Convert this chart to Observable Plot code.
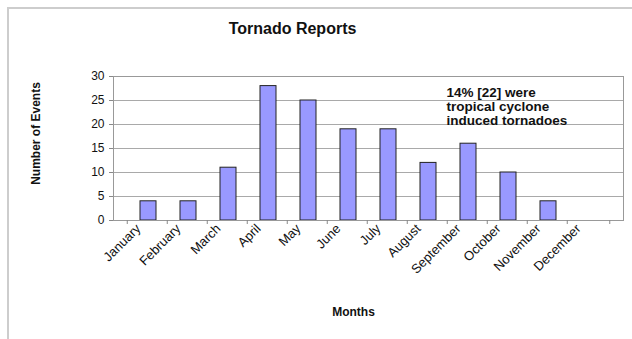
<!DOCTYPE html>
<html><head><meta charset="utf-8">
<script src="https://cdn.jsdelivr.net/npm/d3@7"></script>
<script src="https://cdn.jsdelivr.net/npm/@observablehq/plot@0.6"></script>
<style>
body{margin:0;background:#fff;}
#wrap{position:relative;width:632px;height:339px;overflow:hidden;background:#fff;}
#border{position:absolute;left:7px;top:7px;right:-4px;bottom:-4px;border-left:2px solid #cdcdcd;border-top:2px solid #cdcdcd;pointer-events:none;}
</style></head><body>
<div id="wrap"><div id="border"></div></div>
<script>
const months = ["January","February","March","April","May","June","July","August","September","October","November","December"];
const counts = [4,4,11,28,25,19,19,12,16,10,4,0];
const yTicks = [0,5,10,15,20,25,30];
const title = "Tornado Reports";
const note = "14% [22] were\ntropical cyclone\ninduced tornadoes";
const xTitle = "Months";
const yTitle = "Number of Events";

const data = months.map((m, i) => ({month: m, count: counts[i]}));
const W = 632, H = 339, ML = 113, MR = 9, MT = 76, MB = 119;
const step = (W - ML - MR) / months.length;
const font = "'Liberation Sans', Arial, Helvetica, sans-serif";

const chart = Plot.plot({
  width: W, height: H,
  marginLeft: ML, marginRight: MR, marginTop: MT, marginBottom: MB,
  style: {fontFamily: font, fontSize: "12px", color: "#111", background: "transparent", overflow: "visible"},
  x: {domain: months, padding: 0.6, label: null},
  y: {domain: [0, 30], label: null},
  marks: [
    Plot.gridY(yTicks, {stroke: "#a9a9a9", strokeOpacity: 1}),
    Plot.barY(data, {x: "month", y: "count", fill: "#9999ff", stroke: "#222", strokeWidth: 1, filter: d => d.count > 0}),
    Plot.frame({stroke: "#999"}),
    Plot.axisY(yTicks, {tickSize: 4, tickPadding: 5, stroke: "#888", fill: "#111", fontSize: 12, label: null}),
    Plot.axisX({tickSize: 0, tickRotate: -45, tickPadding: 6, dx: -10, fill: "#111", fontSize: 13, label: null}),
    Plot.ruleX(months, {x: d => d, dx: -step / 2, insetTop: H - MT - MB, insetBottom: -4, stroke: "#888"}),
    Plot.ruleX(months.slice(-1), {x: d => d, dx: step / 2, insetTop: H - MT - MB, insetBottom: -4, stroke: "#888"}),
    Plot.text([title], {text: d => d, frameAnchor: "top", dx: -76, dy: -54, fontSize: 16, fontWeight: "bold", fill: "#111"}),
    Plot.text([note], {text: d => d, frameAnchor: "top-left", textAnchor: "start", lineAnchor: "top", dx: 333, dy: 10, fontSize: 13.5, lineHeight: 1.05, fontWeight: "bold", fill: "#111"}),
    Plot.text([yTitle], {text: d => d, frameAnchor: "left", textAnchor: "middle", rotate: -90, dx: -77, dy: -15, fontSize: 12, fontWeight: "bold", fill: "#111"}),
    Plot.text([xTitle], {text: d => d, frameAnchor: "bottom", dx: -15, dy: 95, fontSize: 12, fontWeight: "bold", fill: "#111"})
  ]
});
document.getElementById("wrap").prepend(chart);
</script>
</body></html>
